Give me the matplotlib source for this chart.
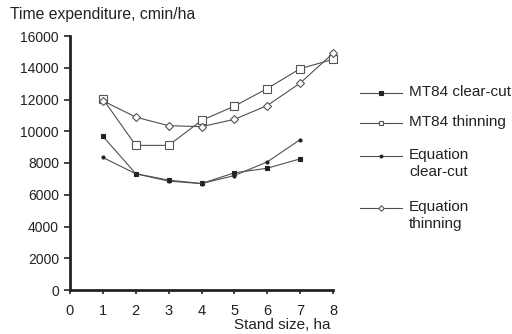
import matplotlib.pyplot as plt
from matplotlib.lines import Line2D

plt.rcParams["font.family"] = ["Liberation Sans", "DejaVu Sans"]

stand_size = [1, 2, 3, 4, 5, 6, 7, 8]
mt84_clear = [9680, 7330, 6920, 6710, 7380, 7670, 8260]
mt84_thin = [12040, 9110, 9110, 10680, 11580, 12690, 13940, 14530]
eq_clear = [8350, 7320, 6860, 6700, 7210, 8070, 9470]
eq_thin = [11920, 10890, 10350, 10290, 10750, 11620, 13030, 14910]

xticks = [0] + stand_size
yticks = list(range(0, 16001, 2000))
series_labels = ["MT84 clear-cut", "MT84 thinning", "Equation\nclear-cut", "Equation\nthinning"]

line_col = "#505050"
text_col = "#222222"

# marker style per series: (marker, plot size, legend size, face, edge)
styles = [
    ("s", 3.5, 2.6, "#222222", "#222222"),
    ("s", 5.2, 3.0, "white", "#555555"),
    ("o", 2.2, 2.0, "#222222", "#222222"),
    ("D", 3.6, 2.8, "white", "#555555"),
]

fig = plt.figure(figsize=(5.12, 3.34), dpi=100)
ax = fig.add_axes([70 / 512, 1 - 290 / 334, 263 / 512, 254 / 334])

series = [
    (stand_size[:7], mt84_clear),
    (stand_size, mt84_thin),
    (stand_size[:7], eq_clear),
    (stand_size, eq_thin),
]
for (xs, ys), (mk, ms, _, fc, ec) in zip(series, styles):
    ax.plot(xs, ys, color=line_col, lw=0.8, marker=mk, ms=ms, mfc=fc, mec=ec,
            mew=0.8, clip_on=False)

ax.set_xlim(0, 8)
ax.set_ylim(0, 16000)
ax.set_xticks(xticks)
ax.set_yticks(yticks)
ax.set_yticklabels([str(v) for v in yticks])

for side in ("top", "right"):
    ax.spines[side].set_visible(False)
for side in ("left", "bottom"):
    ax.spines[side].set_linewidth(2)
    ax.spines[side].set_color(text_col)

ax.tick_params(axis="y", direction="out", length=4, width=1.2, labelsize=10,
               colors=text_col, pad=4)
ax.tick_params(axis="x", direction="out", length=3, width=1.2, labelsize=10.5,
               colors=text_col, pad=7)

fig.text(10 / 512, 1 - 15 / 334, "Time expenditure, cmin/ha", fontsize=11.3,
         color=text_col, va="center", ha="left")
fig.text(331 / 512, 1 - 329 / 334, "Stand size, ha", fontsize=11,
         color=text_col, va="baseline", ha="right")

# hand-placed legend: handle sits on the first text line
legend_rows = [93, 123, 156, 208]
for row, label, (mk, _, lms, fc, ec) in zip(legend_rows, series_labels, styles):
    yf = 1 - row / 334
    fig.add_artist(Line2D([360 / 512, 402 / 512], [yf, yf], color=line_col, lw=0.8))
    fig.add_artist(Line2D([381 / 512], [yf], marker=mk, ms=lms, mfc=fc, mec=ec,
                          mew=0.8, lw=0))
    fig.text(409 / 512, yf + 8 / 334, label, fontsize=11, color=text_col,
             ha="left", va="top", linespacing=1.25)

fig.savefig("out.png", dpi=100)
